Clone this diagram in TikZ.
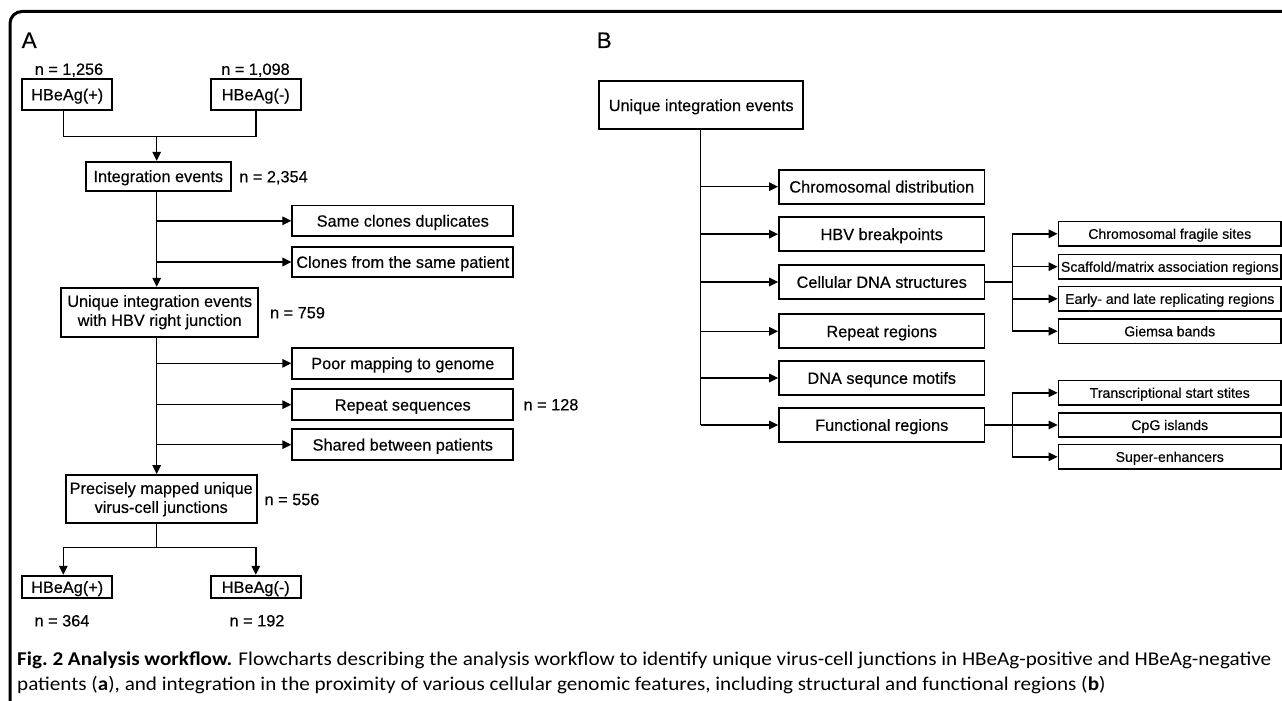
\documentclass[tikz,border=0pt]{standalone}
\usepackage{fontspec}
\usepackage{graphicx}
\setmainfont{Liberation Sans}[FakeBold=0.35]
\newfontfamily\capfont{Carlito}
\usetikzlibrary{arrows.meta}
\newcommand{\capstretch}[1]{\scalebox{1.083}[1]{#1}}
\begin{document}
\begin{tikzpicture}[x=1pt,y=-1pt,
  bx/.style={draw, line width=1.8pt, inner sep=0pt, align=center, font=\fontsize{16.3}{19}\selectfont},
  bxs/.style={bx, text height=11.7pt, text depth=0pt},
  sidebox/.style={bxs, minimum width=221pt, minimum height=30.7pt},
  mainB/.style={bxs, minimum width=205.5pt, minimum height=34pt},
  sbx/.style={draw, line width=1.8pt, inner sep=0pt, minimum width=222.5pt, minimum height=24.5pt, text height=10.1pt, text depth=0pt, font=\fontsize{14.1}{17}\selectfont},
  lbl/.style={inner sep=0pt, text height=11.7pt, text depth=0pt, font=\fontsize{16.3}{19}\selectfont},
  panel/.style={inner sep=0pt, anchor=base west, font=\fontsize{22.5}{26}\selectfont},
  capline/.style={inner sep=0pt, anchor=base west, font=\capfont\fontsize{19.5}{24}\selectfont},
  ln/.style={line width=1.5pt},
  arr/.style={line width=1.5pt, -{Triangle[length=9pt,width=8.5pt]}}]
\path[use as bounding box] (0,0) rectangle (1282,701);
% frame
\draw[line width=3pt, rounded corners=12pt] (10,720) -- (10,11.5) -- (1300,11.5);
% panel labels
\node[panel] (labA) at (21.5,48) {A};
\node[panel] (labB) at (596.5,48) {B};
% ---------- Panel A ----------
\node[lbl] (n1256) at (69,69) {n = 1,256};
\node[lbl] (n1098) at (255.5,69) {n = 1,098};
\node[bxs, minimum width=90pt, minimum height=31pt] (pA) at (67.2,94.5) {HBeAg(+)};
\node[bxs, minimum width=90pt, minimum height=31pt] (mA) at (255.8,94.5) {HBeAg(-)};
\node[bxs, minimum width=144.7pt, minimum height=29pt] (ie) at (158.3,176.2) {Integration events};
\node[lbl] (n2354) at (273.5,176.5) {n = 2,354};
\node[sidebox] (scd) at (402.8,220.8) {Same clones duplicates};
\node[sidebox] (cfs) at (402.8,262) {Clones from the same patient};
\node[bx, minimum width=197.3pt, minimum height=49pt] (uie) at (159.7,312.2) {Unique integration events\\with HBV right junction};
\node[lbl] (n759) at (297.5,312.5) {n = 759};
\node[sidebox] (pmg) at (402.8,363.3) {Poor mapping to genome};
\node[sidebox] (rs) at (402.8,404.7) {Repeat sequences};
\node[lbl] (n128) at (551,404.5) {n = 128};
\node[sidebox] (sbp) at (402.8,444.7) {Shared between patients};
\node[bx, minimum width=191pt, minimum height=48.3pt] (pm) at (161.2,499.2) {Precisely mapped unique\\virus-cell junctions};
\node[lbl] (n556) at (292,499.3) {n = 556};
\node[bxs, minimum width=90.3pt, minimum height=22.7pt] (pB) at (67.2,587) {HBeAg(+)};
\node[bxs, minimum width=90.3pt, minimum height=22.7pt] (mB) at (255.8,587) {HBeAg(-)};
\node[lbl] (n364) at (62,620.5) {n = 364};
\node[lbl] (n192) at (257,620.5) {n = 192};
% connectors A
\coordinate (jt) at (156.7,136.7);
\coordinate (jb) at (156.7,547.3);
\draw[ln] ([xshift=-3.9pt]pA.south) |- (jt) -| (mA.south);
\draw[arr] (jt) -- (jt |- ie.north);
\draw[arr] (jt |- ie.south) -- (jt |- uie.north);
\draw[arr] (jt |- scd.west) -- (scd.west);
\draw[arr] (jt |- cfs.west) -- (cfs.west);
\draw[arr] (jt |- uie.south) -- (jt |- pm.north);
\draw[arr] (jt |- pmg.west) -- (pmg.west);
\draw[arr] (jt |- rs.west) -- (rs.west);
\draw[arr] (jt |- sbp.west) -- (sbp.west);
\draw[ln] (jt |- pm.south) -- (jb);
\draw[arr] (jb) -| ([xshift=-3.9pt]pB.north);
\draw[arr] (jb) -| (mB.north);
% ---------- Panel B ----------
\node[bxs, minimum width=204.3pt, minimum height=48.3pt] (uieB) at (701.2,105.2) {Unique integration events};
\node[mainB] (cd) at (881.75,186.7) {Chromosomal distribution};
\node[mainB] (hbv) at (881.75,234.2) {HBV breakpoints};
\node[mainB] (cds) at (881.75,282) {Cellular DNA structures};
\node[mainB] (rr) at (881.75,331.3) {Repeat regions};
\node[mainB] (dsm) at (881.75,378) {DNA sequnce motifs};
\node[mainB] (fr) at (881.75,425) {Functional regions};
\node[sbx] (cfsB) at (1169.75,233.8) {Chromosomal fragile sites};
\node[sbx] (sma) at (1169.75,266.7) {Scaffold/matrix association regions};
\node[sbx] (elr) at (1169.75,298.8) {Early- and late replicating regions};
\node[sbx] (gb) at (1169.75,331.2) {Giemsa bands};
\node[sbx] (tss) at (1169.75,392.8) {Transcriptional start stites};
\node[sbx] (cpg) at (1169.75,425) {CpG islands};
\node[sbx] (se) at (1169.75,456.8) {Super-enhancers};
% connectors B
\coordinate (colB) at (700.7,0);
\coordinate (colC) at (1012.3,0);
\draw[ln] (colB |- uieB.south) -- (colB |- fr.west);
\foreach \t in {cd,hbv,cds,rr,dsm,fr} \draw[arr] (colB |- \t.west) -- (\t.west);
\draw[ln] (cds.east) -- (colC |- cds.east);
\draw[ln] (colC |- cfsB.west) -- (colC |- gb.west);
\foreach \t in {cfsB,sma,elr,gb} \draw[arr] (colC |- \t.west) -- (\t.west);
\draw[ln] (colC |- tss.west) -- (colC |- se.west);
\draw[arr] (fr.east) -- (cpg.west);
\draw[arr] (colC |- tss.west) -- (tss.west);
\draw[arr] (colC |- se.west) -- (se.west);
% caption
\node[capline] (cap1) at (17,665.5) {\capstretch{\textbf{Fig.~2 Analysis workflow.} Flowcharts describing the analysis workflow to identify unique virus-cell junctions in HBeAg-positive and HBeAg-negative}};
\node[capline] (cap2) at (17,690) {\capstretch{patients (\textbf{a}), and integration in the proximity of various cellular genomic features, including structural and functional regions (\textbf{b})}};
\end{tikzpicture}
\end{document}
